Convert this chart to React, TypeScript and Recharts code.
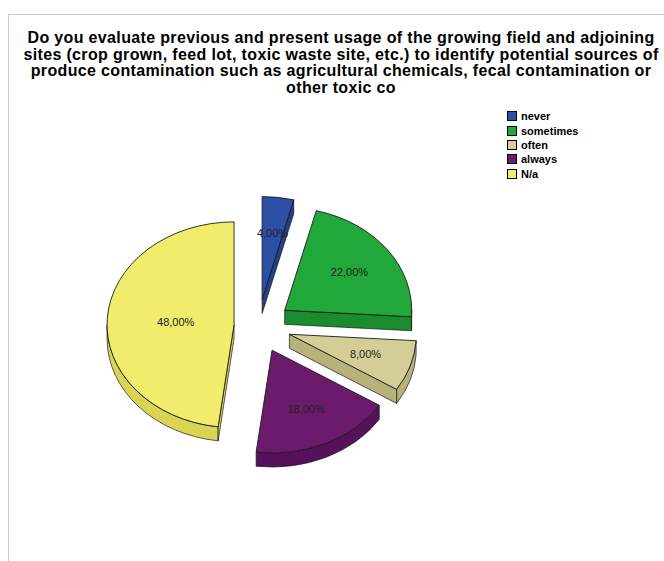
import React from 'react';
import { PieChart, Pie, Cell, Legend } from 'recharts';

// answers and their share of responses (%)
const CATEGORIES = ['never', 'sometimes', 'often', 'always', 'N/a'];
const PERCENTS = [4, 22, 8, 18, 48];

const TITLE_LINES = [
  'Do you evaluate previous and present usage of the growing field and adjoining',
  'sites (crop grown, feed lot, toxic waste site, etc.) to identify potential sources of',
  'produce contamination such as agricultural chemicals, fecal contamination or',
  'other toxic co',
];

const TOP_COLORS = ['#2D4FA6', '#21A83A', '#D4CE96', '#6C1A6C', '#F1EC6C'];
const SIDE_COLORS = ['#223F8A', '#1A8C2F', '#B7B17A', '#55125A', '#D9D452'];

// how far each slice is pulled out, and where its label sits (fraction of radius)
const EXPLODE = [33, 33, 33, 33, 24];
const LABEL_AT = [0.65, 0.63, 0.63, 0.63, 0.46];

const W = 664;
const H = 561;
const CX = 258;
const CY = 326;
const RX = 127;
const TILT = 0.81; // vertical squash of the 3D pie
const DEPTH = 14;
const RAD = Math.PI / 180;
const FONT = 'Arial, "Liberation Sans", sans-serif';

const chartData = CATEGORIES.map((name, i) => ({ name, value: PERCENTS[i] }));

// draws one exploded 3D slice from the angles recharts computed for the sector
const renderSlice = (props: any) => {
  const { cx, cy, outerRadius, startAngle, endAngle, midAngle, percent, index } = props;
  const rx = outerRadius;
  const ry = outerRadius * TILT;
  const d = EXPLODE[index];
  const ox = cx + d * Math.cos(midAngle * RAD);
  const oy = cy - d * TILT * Math.sin(midAngle * RAD);
  const pt = (deg: number, dz = 0) =>
    `${ox + rx * Math.cos(deg * RAD)},${oy - ry * Math.sin(deg * RAD) + dz}`;
  const hi = Math.max(startAngle, endAngle);
  const lo = Math.min(startAngle, endAngle);
  const large = hi - lo > 180 ? 1 : 0;

  const sides: string[] = [];
  // outer rim, only the part facing the viewer
  for (const k of [-1, 0, 1]) {
    const a = Math.min(hi, 360 * k);
    const b = Math.max(lo, -180 + 360 * k);
    if (a > b + 0.01) {
      sides.push(
        `M${pt(a)} A${rx},${ry} 0 0 1 ${pt(b)} L${pt(b, DEPTH)} A${rx},${ry} 0 0 0 ${pt(a, DEPTH)} Z`
      );
    }
  }
  // cut faces
  const c0 = `${ox},${oy}`;
  const c1 = `${ox},${oy + DEPTH}`;
  if (Math.cos(hi * RAD) < -0.001) sides.push(`M${c0} L${pt(hi)} L${pt(hi, DEPTH)} L${c1} Z`);
  if (Math.cos(lo * RAD) > 0.001) sides.push(`M${c0} L${pt(lo)} L${pt(lo, DEPTH)} L${c1} Z`);

  const top = `M${c0} L${pt(hi)} A${rx},${ry} 0 ${large} 1 ${pt(lo)} Z`;
  const t = LABEL_AT[index];
  const lx = ox + t * rx * Math.cos(midAngle * RAD);
  const ly = oy - t * ry * Math.sin(midAngle * RAD);
  const text = `${(percent * 100).toFixed(2).replace('.', ',')}%`;

  return (
    <g key={`slice-${index}`}>
      {sides.map((p, j) => (
        <path key={j} d={p} fill={SIDE_COLORS[index]} stroke="#1a1a1a" strokeWidth={0.7} strokeLinejoin="round" />
      ))}
      <path d={top} fill={TOP_COLORS[index]} stroke="#1a1a1a" strokeWidth={0.9} strokeLinejoin="round" />
      <text x={lx} y={ly} textAnchor="middle" dominantBaseline="central" fontFamily={FONT} fontSize={11} fill="#222">
        {text}
      </text>
    </g>
  );
};

// legend keeps the answer order, not recharts' alphabetical sort
const renderLegend = (p: any) => {
  const items = [...(p.payload || [])].sort(
    (a: any, b: any) => CATEGORIES.indexOf(a.value) - CATEGORIES.indexOf(b.value)
  );
  return (
    <div style={{ fontFamily: FONT, fontSize: 11, fontWeight: 'bold', color: '#000' }}>
      {items.map((e: any) => {
        const i = CATEGORIES.indexOf(e.value);
        return (
          <div key={e.value} style={{ display: 'flex', alignItems: 'center', height: 14.4 }}>
            <span
              style={{
                display: 'inline-block',
                width: 8,
                height: 8,
                border: '1px solid #000',
                background: TOP_COLORS[i],
                marginRight: 4,
              }}
            />
            {e.value}
          </div>
        );
      })}
    </div>
  );
};

export default function App() {
  return (
    <div style={{ position: 'absolute', left: 0, top: 0, width: W, height: H, background: '#fff', overflow: 'hidden' }}>
      {/* frame of the output viewer */}
      <div
        style={{
          position: 'absolute',
          left: 8,
          top: 14,
          width: W,
          height: H,
          borderTop: '1px solid #c8c8c8',
          borderLeft: '1px solid #c8c8c8',
        }}
      />
      <div
        style={{
          position: 'absolute',
          left: 0,
          top: 30,
          width: 682,
          textAlign: 'center',
          fontFamily: FONT,
          fontWeight: 'bold',
          fontSize: 16,
          letterSpacing: 0.35,
          lineHeight: '16.5px',
          color: '#000',
          whiteSpace: 'nowrap',
        }}
      >
        {TITLE_LINES.map((l, i) => (
          <div key={i}>{l}</div>
        ))}
      </div>
      <div style={{ position: 'absolute', left: 0, top: 0 }}>
        <PieChart width={W} height={H} margin={{ top: 0, right: 0, bottom: 0, left: 0 }}>
          <Pie
            data={chartData}
            dataKey="value"
            nameKey="name"
            cx={CX}
            cy={CY}
            outerRadius={RX}
            startAngle={90}
            endAngle={-270}
            fillOpacity={0}
            stroke="none"
            label={renderSlice}
            labelLine={false}
            isAnimationActive={false}
          >
            {chartData.map((e, i) => (
              <Cell key={`cell-${e.name}`} fill={TOP_COLORS[i]} fillOpacity={0} stroke="none" />
            ))}
          </Pie>
          <Legend
            layout="vertical"
            content={renderLegend}
            wrapperStyle={{ position: 'absolute', left: 507, top: 109, width: 120, bottom: 'auto', right: 'auto' }}
          />
        </PieChart>
      </div>
    </div>
  );
}
